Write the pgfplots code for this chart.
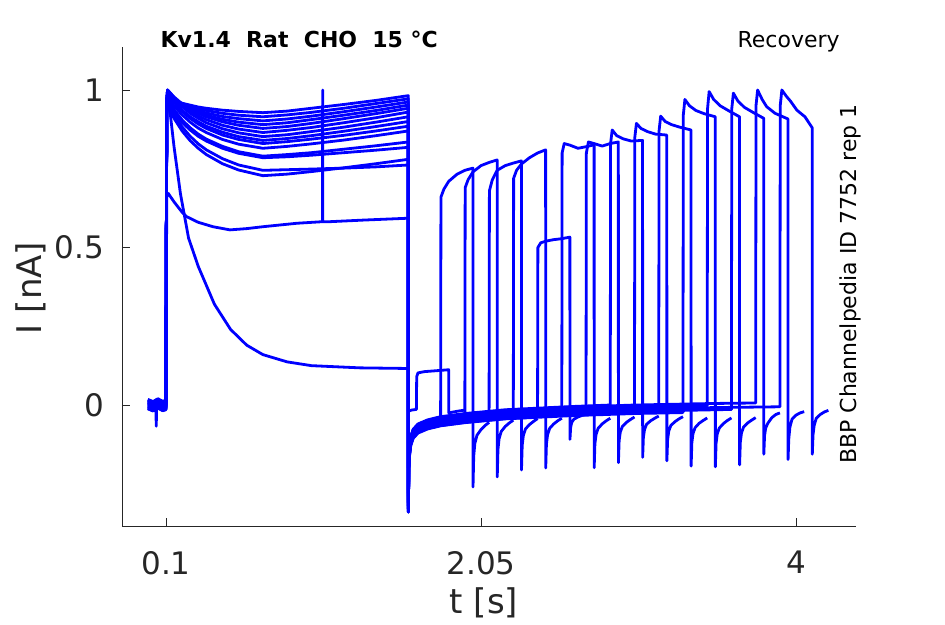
\documentclass[border=0pt]{standalone}
\usepackage{fontspec}
\setmainfont{DejaVu Sans}
\usepackage{pgfplots}
\pgfplotsset{compat=1.18}
\definecolor{axcol}{RGB}{38,38,38}
\pgfplotsset{trace/.style={color={rgb,1:red,0;green,0;blue,1}, line width=2.8pt, line join=round, no markers}}
\begin{document}
\begin{tikzpicture}
\useasboundingbox (0,0) rectangle (945pt,624pt);
\begin{axis}[
 at={(122pt,98pt)}, anchor=south west, scale only axis, width=734pt, height=479pt,
 xmin=-0.172, xmax=4.371, ymin=-0.384, ymax=1.1365,
 clip=false,
 axis x line*=bottom, axis y line*=left,
 axis line style={axcol, line width=0.8pt, -},
 xtick={0.1,2.05,4}, xticklabels={0.1,2.05,4},
 ytick={0,0.5,1}, yticklabels={0,0.5,1},
 tick align=inside, major tick length=8pt,
 tick style={axcol, line width=0.8pt},
 /pgf/number format/assume math mode=true,
 ticklabel style={font=\fontsize{31}{31}\selectfont, text=axcol, inner sep=0pt},
 xticklabel style={anchor=north, yshift=-25pt},
 yticklabel style={anchor=east, xshift=-18pt},
 xlabel={t [s]}, ylabel={I [nA]},
 every axis x label/.style={at={(axis description cs:0.493,-0.161)}, anchor=center, font=\fontsize{34}{34}\selectfont, text=axcol},
 every axis y label/.style={at={(axis description cs:-0.124,0.497)}, anchor=center, rotate=90, font=\fontsize{34}{34}\selectfont, text=axcol},
]
% sweep 0
\addplot[trace] coordinates {(-0.012,0.0) (0.02,0.01) (0.05,-0.002) (0.08,0.006) (0.0995,0.0) (0.105,0.97) (0.11,1.0) (0.15,0.82) (0.19,0.67) (0.24,0.53) (0.3,0.44) (0.35,0.38) (0.4,0.32) (0.5,0.24) (0.6,0.19) (0.7,0.16) (0.85,0.137) (1.0,0.125) (1.3,0.118) (1.6,0.116) (1.6005,-0.02) (1.62,-0.016) (1.65,-0.014) (1.652,0.09) (1.66,0.102) (1.7,0.106) (1.8,0.11) (1.85,0.112) (1.8505,-0.025) (1.9,-0.02) (1.95,-0.016)};
% sweep 1
\addplot[trace] coordinates {(-0.012,-0.009) (0.02,-0.016) (0.05,-0.007) (0.08,-0.015) (0.0995,-0.012) (0.105,0.92) (0.11,0.95) (0.15,0.910) (0.2,0.870) (0.25,0.839) (0.3,0.815) (0.35,0.795) (0.45,0.766) (0.55,0.746) (0.7,0.728) (0.85,0.733) (1.0,0.741) (1.2,0.753) (1.4,0.766) (1.6,0.78) (1.6005,-0.28) (1.603,-0.168) (1.607,-0.162) (1.615,-0.127) (1.63,-0.104) (1.66,-0.087) (1.72,-0.074) (1.8,-0.064) (1.802,0.66) (1.82,0.685) (1.85,0.71) (1.9,0.732) (1.95,0.745) (2.0,0.752) (2.0005,-0.26) (2.005,-0.161) (2.012,-0.122) (2.025,-0.096) (2.05,-0.078) (2.075,-0.065) (2.1,-0.055)};
% sweep 2
\addplot[trace] coordinates {(-0.012,0.011) (0.02,0.004) (0.05,0.013) (0.08,0.005) (0.0995,0.008) (0.105,0.93) (0.11,0.96) (0.15,0.921) (0.2,0.883) (0.25,0.853) (0.3,0.829) (0.35,0.810) (0.45,0.782) (0.55,0.762) (0.7,0.745) (0.85,0.747) (1.0,0.749) (1.2,0.752) (1.4,0.756) (1.6,0.762) (1.6005,-0.27) (1.603,-0.162) (1.607,-0.142) (1.615,-0.107) (1.63,-0.084) (1.66,-0.067) (1.72,-0.054) (1.8,-0.044) (1.95,-0.034) (1.952,0.69) (1.97,0.715) (2.0,0.74) (2.05,0.76) (2.1,0.77) (2.15,0.778) (2.1505,-0.228) (2.155,-0.141) (2.162,-0.107) (2.175,-0.084) (2.2,-0.068) (2.225,-0.057) (2.25,-0.048)};
% sweep 3
\addplot[trace] coordinates {(-0.012,-0.002) (0.02,-0.009) (0.05,0.0) (0.08,-0.008) (0.0995,-0.005) (0.105,0.94) (0.11,0.97) (0.15,0.938) (0.2,0.905) (0.25,0.88) (0.3,0.86) (0.35,0.844) (0.45,0.821) (0.55,0.804) (0.7,0.79) (0.85,0.795) (1.0,0.801) (1.2,0.812) (1.4,0.823) (1.6,0.835) (1.6005,-0.30) (1.603,-0.18) (1.607,-0.155) (1.615,-0.12) (1.63,-0.097) (1.66,-0.08) (1.72,-0.067) (1.8,-0.057) (1.95,-0.047) (2.1,-0.04) (2.102,0.68) (2.12,0.715) (2.15,0.745) (2.2,0.76) (2.25,0.768) (2.3,0.775) (2.3005,-0.206) (2.305,-0.128) (2.312,-0.097) (2.325,-0.076) (2.35,-0.062) (2.375,-0.052) (2.4,-0.043)};
% sweep 4
\addplot[trace] coordinates {(-0.012,0.015) (0.02,0.008) (0.05,0.017) (0.08,0.009) (0.0995,0.012) (0.105,0.93) (0.11,0.96) (0.15,0.929) (0.2,0.897) (0.25,0.873) (0.3,0.853) (0.35,0.838) (0.45,0.815) (0.55,0.799) (0.7,0.785) (0.85,0.788) (1.0,0.793) (1.2,0.801) (1.4,0.809) (1.6,0.818) (1.6005,-0.29) (1.603,-0.174) (1.607,-0.138) (1.615,-0.103) (1.63,-0.08) (1.66,-0.063) (1.72,-0.05) (1.8,-0.04) (1.95,-0.03) (2.2,-0.018) (2.25,-0.017) (2.252,0.72) (2.27,0.745) (2.3,0.765) (2.35,0.785) (2.4,0.8) (2.45,0.81) (2.4505,-0.2) (2.455,-0.124) (2.462,-0.094) (2.475,-0.074) (2.5,-0.06) (2.525,-0.05) (2.55,-0.042)};
% sweep 5
\addplot[trace] coordinates {(-0.012,-0.012) (0.02,-0.019) (0.038,-0.012) (0.04,-0.067) (0.042,-0.012) (0.05,-0.01) (0.08,-0.018) (0.0995,-0.015) (0.105,0.66) (0.114,0.672) (0.15,0.645) (0.2,0.612) (0.228,0.598) (0.3,0.58) (0.391,0.566) (0.496,0.556) (0.6,0.56) (0.7,0.566) (0.911,0.577) (1.069,0.582) (1.070,1.0) (1.071,0.582) (1.115,0.582) (1.32,0.587) (1.6,0.593) (1.6005,-0.2) (1.605,-0.13) (1.615,-0.11) (1.63,-0.1) (1.66,-0.085) (1.72,-0.074) (1.8,-0.065) (1.95,-0.055) (2.2,-0.043) (2.4,-0.038) (2.402,0.50) (2.42,0.515) (2.45,0.52) (2.5,0.525) (2.55,0.528) (2.6,0.533) (2.6005,-0.109) (2.605,-0.07) (2.612,-0.055) (2.625,-0.045) (2.65,-0.038) (2.675,-0.033) (2.7,-0.03)};
% sweep 6
\addplot[trace] coordinates {(-0.012,0.007) (0.02,0.0) (0.05,0.009) (0.08,0.001) (0.0995,0.004) (0.105,0.95) (0.11,0.98) (0.15,0.950) (0.2,0.921) (0.25,0.898) (0.3,0.879) (0.35,0.865) (0.45,0.843) (0.55,0.828) (0.7,0.815) (0.85,0.821) (1.0,0.829) (1.2,0.841) (1.4,0.855) (1.6,0.87) (1.6005,-0.31) (1.603,-0.186) (1.607,-0.146) (1.615,-0.111) (1.63,-0.088) (1.66,-0.071) (1.72,-0.058) (1.8,-0.048) (1.95,-0.038) (2.2,-0.026) (2.55,-0.017) (2.552,0.80) (2.565,0.83) (2.6,0.825) (2.65,0.815) (2.7,0.82) (2.75,0.826) (2.7505,-0.199) (2.755,-0.123) (2.762,-0.094) (2.775,-0.074) (2.8,-0.06) (2.825,-0.05) (2.85,-0.042)};
% sweep 7
\addplot[trace] coordinates {(-0.012,-0.006) (0.02,-0.013) (0.05,-0.004) (0.08,-0.012) (0.0995,-0.009) (0.105,0.96) (0.11,0.99) (0.15,0.961) (0.2,0.932) (0.25,0.91) (0.3,0.892) (0.35,0.878) (0.45,0.857) (0.55,0.843) (0.7,0.83) (0.85,0.836) (1.0,0.844) (1.2,0.856) (1.4,0.87) (1.6,0.885) (1.6005,-0.31) (1.603,-0.186) (1.607,-0.159) (1.615,-0.124) (1.63,-0.101) (1.66,-0.084) (1.72,-0.071) (1.8,-0.061) (1.95,-0.051) (2.2,-0.039) (2.6,-0.029) (2.7,-0.027) (2.702,0.80) (2.715,0.835) (2.75,0.83) (2.8,0.822) (2.85,0.83) (2.9,0.835) (2.9005,-0.183) (2.905,-0.113) (2.912,-0.086) (2.925,-0.068) (2.95,-0.055) (2.975,-0.046) (3.0,-0.038)};
% sweep 8
\addplot[trace] coordinates {(-0.012,0.018) (0.02,0.011) (0.05,0.02) (0.08,0.012) (0.0995,0.015) (0.105,0.96) (0.11,0.99) (0.15,0.963) (0.2,0.936) (0.25,0.915) (0.3,0.899) (0.35,0.885) (0.45,0.866) (0.55,0.852) (0.7,0.84) (0.85,0.846) (1.0,0.855) (1.2,0.869) (1.4,0.884) (1.6,0.90) (1.6005,-0.32) (1.603,-0.192) (1.607,-0.135) (1.615,-0.1) (1.63,-0.077) (1.66,-0.06) (1.72,-0.047) (1.8,-0.037) (1.95,-0.027) (2.2,-0.015) (2.6,-0.005) (2.85,0.0) (2.852,0.83) (2.862,0.873) (2.89,0.855) (2.93,0.845) (2.98,0.838) (3.05,0.84) (3.0505,-0.166) (3.055,-0.103) (3.062,-0.078) (3.075,-0.061) (3.1,-0.05) (3.125,-0.042) (3.15,-0.035)};
% sweep 9
\addplot[trace] coordinates {(-0.012,0.001) (0.02,-0.006) (0.05,0.003) (0.08,-0.005) (0.0995,-0.002) (0.105,0.97) (0.11,1.0) (0.15,0.973) (0.2,0.947) (0.25,0.926) (0.3,0.91) (0.35,0.896) (0.45,0.877) (0.55,0.864) (0.7,0.852) (0.85,0.858) (1.0,0.868) (1.2,0.882) (1.4,0.898) (1.6,0.915) (1.6005,-0.32) (1.603,-0.192) (1.607,-0.152) (1.615,-0.117) (1.63,-0.094) (1.66,-0.077) (1.72,-0.064) (1.8,-0.054) (1.95,-0.044) (2.2,-0.032) (2.6,-0.022) (3.0,-0.015) (3.002,0.85) (3.012,0.894) (3.04,0.878) (3.08,0.868) (3.13,0.86) (3.2,0.857) (3.2005,-0.177) (3.205,-0.11) (3.212,-0.083) (3.225,-0.065) (3.25,-0.053) (3.275,-0.044) (3.3,-0.037)};
% sweep 10
\addplot[trace] coordinates {(-0.012,0.013) (0.02,0.006) (0.05,0.015) (0.08,0.007) (0.0995,0.01) (0.105,0.97) (0.11,1.0) (0.15,0.976) (0.2,0.951) (0.25,0.933) (0.3,0.918) (0.35,0.906) (0.45,0.888) (0.55,0.876) (0.7,0.865) (0.85,0.872) (1.0,0.881) (1.2,0.896) (1.4,0.912) (1.6,0.93) (1.6005,-0.33) (1.603,-0.198) (1.607,-0.14) (1.615,-0.105) (1.63,-0.082) (1.66,-0.065) (1.72,-0.052) (1.8,-0.042) (1.95,-0.032) (2.2,-0.02) (2.6,-0.01) (3.0,-0.003) (3.15,-0.0015) (3.152,0.87) (3.162,0.917) (3.19,0.9) (3.23,0.89) (3.28,0.882) (3.35,0.873) (3.3505,-0.194) (3.355,-0.12) (3.362,-0.091) (3.375,-0.072) (3.4,-0.058) (3.425,-0.049) (3.45,-0.041)};
% sweep 11
\addplot[trace] coordinates {(-0.012,-0.011) (0.02,-0.018) (0.05,-0.009) (0.08,-0.017) (0.0995,-0.014) (0.105,0.97) (0.11,1.0) (0.15,0.978) (0.2,0.956) (0.25,0.939) (0.3,0.926) (0.35,0.915) (0.45,0.899) (0.55,0.888) (0.7,0.878) (0.85,0.884) (1.0,0.894) (1.2,0.909) (1.4,0.925) (1.6,0.942) (1.6005,-0.33) (1.603,-0.198) (1.607,-0.164) (1.615,-0.129) (1.63,-0.106) (1.66,-0.089) (1.72,-0.076) (1.8,-0.066) (1.95,-0.056) (2.2,-0.044) (2.6,-0.034) (3.0,-0.027) (3.3,-0.024) (3.302,0.92) (3.312,0.97) (3.34,0.95) (3.38,0.935) (3.43,0.925) (3.5,0.915) (3.5005,-0.196) (3.505,-0.122) (3.512,-0.092) (3.525,-0.073) (3.55,-0.059) (3.575,-0.049) (3.6,-0.041)};
% sweep 12
\addplot[trace] coordinates {(-0.012,0.009) (0.02,0.002) (0.05,0.011) (0.08,0.003) (0.0995,0.006) (0.105,0.96) (0.11,0.99) (0.15,0.972) (0.2,0.954) (0.25,0.94) (0.3,0.929) (0.35,0.92) (0.45,0.907) (0.55,0.898) (0.7,0.89) (0.85,0.896) (1.0,0.906) (1.2,0.92) (1.4,0.935) (1.6,0.952) (1.6005,-0.34) (1.603,-0.204) (1.607,-0.144) (1.615,-0.109) (1.63,-0.086) (1.66,-0.069) (1.72,-0.056) (1.8,-0.046) (1.95,-0.036) (2.2,-0.024) (2.6,-0.014) (3.0,-0.007) (3.45,-0.0025) (3.452,0.94) (3.462,0.995) (3.49,0.97) (3.53,0.95) (3.58,0.935) (3.65,0.915) (3.6505,-0.19) (3.655,-0.118) (3.662,-0.089) (3.675,-0.07) (3.7,-0.057) (3.725,-0.048) (3.75,-0.04)};
% sweep 13
\addplot[trace] coordinates {(-0.012,-0.004) (0.02,-0.011) (0.05,-0.002) (0.08,-0.01) (0.0995,-0.007) (0.105,0.955) (0.11,0.985) (0.15,0.970) (0.2,0.955) (0.25,0.944) (0.3,0.934) (0.35,0.927) (0.45,0.916) (0.55,0.909) (0.7,0.902) (0.85,0.908) (1.0,0.917) (1.2,0.931) (1.4,0.946) (1.6,0.962) (1.6005,-0.33) (1.603,-0.198) (1.607,-0.157) (1.615,-0.122) (1.63,-0.099) (1.66,-0.082) (1.72,-0.069) (1.8,-0.059) (1.95,-0.049) (2.2,-0.037) (2.6,-0.027) (3.0,-0.02) (3.5,-0.015) (3.6,-0.014) (3.602,0.94) (3.612,0.99) (3.64,0.965) (3.68,0.945) (3.73,0.93) (3.8,0.91) (3.8005,-0.156) (3.805,-0.097) (3.812,-0.073) (3.825,-0.058) (3.85,-0.04) (3.875,-0.03) (3.9,-0.025)};
% sweep 14
\addplot[trace] coordinates {(-0.012,0.016) (0.02,0.009) (0.05,0.018) (0.08,0.01) (0.0995,0.013) (0.105,0.95) (0.11,0.98) (0.15,0.968) (0.2,0.957) (0.25,0.948) (0.3,0.94) (0.35,0.935) (0.45,0.926) (0.55,0.92) (0.7,0.915) (0.85,0.921) (1.0,0.929) (1.2,0.942) (1.4,0.957) (1.6,0.972) (1.6005,-0.34) (1.603,-0.204) (1.607,-0.137) (1.615,-0.102) (1.63,-0.079) (1.66,-0.062) (1.72,-0.049) (1.8,-0.039) (1.95,-0.029) (2.2,-0.017) (2.6,-0.007) (3.0,0.0) (3.5,0.005) (3.75,0.0065) (3.752,0.95) (3.762,1.0) (3.79,0.97) (3.818,0.947) (3.87,0.926) (3.95,0.908) (3.9505,-0.173) (3.955,-0.107) (3.962,-0.07) (3.975,-0.045) (4.0,-0.032) (4.025,-0.025) (4.05,-0.021)};
% sweep 15
\addplot[trace] coordinates {(-0.012,0.003) (0.02,-0.004) (0.05,0.005) (0.08,-0.003) (0.0995,0.0) (0.105,0.945) (0.11,0.975) (0.15,0.967) (0.2,0.958) (0.25,0.952) (0.3,0.946) (0.35,0.942) (0.45,0.936) (0.55,0.932) (0.7,0.928) (0.85,0.933) (1.0,0.942) (1.2,0.954) (1.4,0.967) (1.6,0.982) (1.6005,-0.34) (1.603,-0.204) (1.607,-0.15) (1.615,-0.115) (1.63,-0.092) (1.66,-0.075) (1.72,-0.062) (1.8,-0.052) (1.95,-0.042) (2.2,-0.03) (2.6,-0.02) (3.0,-0.013) (3.5,-0.008) (3.9,-0.0056) (3.902,0.95) (3.912,1.0) (3.94,0.98) (3.965,0.965) (4.005,0.936) (4.055,0.915) (4.1,0.88) (4.1005,-0.156) (4.105,-0.095) (4.112,-0.065) (4.125,-0.042) (4.15,-0.03) (4.175,-0.022) (4.2,-0.017)};
\node[anchor=base west, font=\fontsize{22}{22}\selectfont\bfseries] at (axis description cs:0.0477,0.998) {Kv1.4\ \ Rat\ \ CHO\ \ 15 °C};
\node[anchor=base east, font=\fontsize{22}{22}\selectfont] at (axis description cs:0.9825,0.998) {Recovery};
\node[rotate=90, anchor=center, font=\fontsize{22}{22}\selectfont] at (axis description cs:0.9918,0.505) {BBP Channelpedia ID 7752 rep 1};
\end{axis}
\end{tikzpicture}
\end{document}
